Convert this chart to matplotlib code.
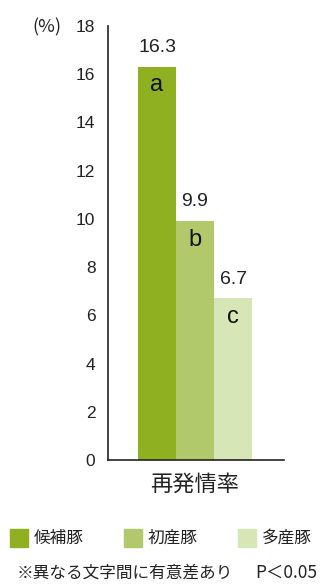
import matplotlib
matplotlib.use("Agg")
import matplotlib.pyplot as plt
from matplotlib.patches import Rectangle

plt.rcParams['font.family'] = ['Noto Sans CJK JP', 'DejaVu Sans']
NUM = ['Liberation Sans', 'DejaVu Sans']

category = "再発情率"
groups = ["候補豚", "初産豚", "多産豚"]
values = [16.3, 9.9, 6.7]
letters = ["a", "b", "c"]
colors = ["#8FB021", "#B1C96B", "#D6E6B7"]
yticks = [0, 2, 4, 6, 8, 10, 12, 14, 16, 18]

fig = plt.figure(figsize=(3.23, 5.86), dpi=100)
ax = fig.add_axes([108/323, 1-460/586, 176/323, 434/586])

xs = [0, 1, 2]
ax.bar(xs, values, width=1.0, color=colors, edgecolor='none')
for x, v, l in zip(xs, values, letters):
    ax.text(x, v + 0.45, f"{v}", ha='center', va='bottom', fontsize=14,
            color='#222222', family=NUM)
    ax.text(x, v - 0.3, l, ha='center', va='top', fontsize=17,
            color='#111111', family=NUM)

ax.set_xlim(-1.29, 3.34)
ax.set_ylim(0, 18)
ax.set_yticks(yticks)
ax.set_yticklabels([str(t) for t in yticks], fontsize=12.5, color='#222222',
                   family=NUM)
ax.tick_params(axis='y', length=0, pad=9)
ax.set_xticks([1])
ax.set_xticklabels([category], fontsize=16, color='#222222')
ax.tick_params(axis='x', length=0, pad=9)
for s in ['top', 'right']:
    ax.spines[s].set_visible(False)
for s in ['left', 'bottom']:
    ax.spines[s].set_linewidth(1.2)
    ax.spines[s].set_color('#222222')

fig.text(47/323, 1-27/586, "(%)", ha='center', va='center', fontsize=13,
         color='#222222')

# legend
lx = [10, 124, 238]
for x, g, c in zip(lx, groups, colors):
    fig.patches.append(Rectangle((x/323, 1-547/586), 18/323, 18/586,
                                 transform=fig.transFigure, color=c, figure=fig))
    fig.text((x+24)/323, 1-538/586, g, ha='left', va='center', fontsize=12,
             color='#222222')

fig.text(17/323, 1-573/586, "※異なる文字間に有意差あり", ha='left', va='center',
         fontsize=12, color='#222222')
fig.text(255/323, 1-573/586, "P＜0.05", ha='left', va='center',
         fontsize=12.5, color='#222222')

fig.savefig("out.png", dpi=100)
